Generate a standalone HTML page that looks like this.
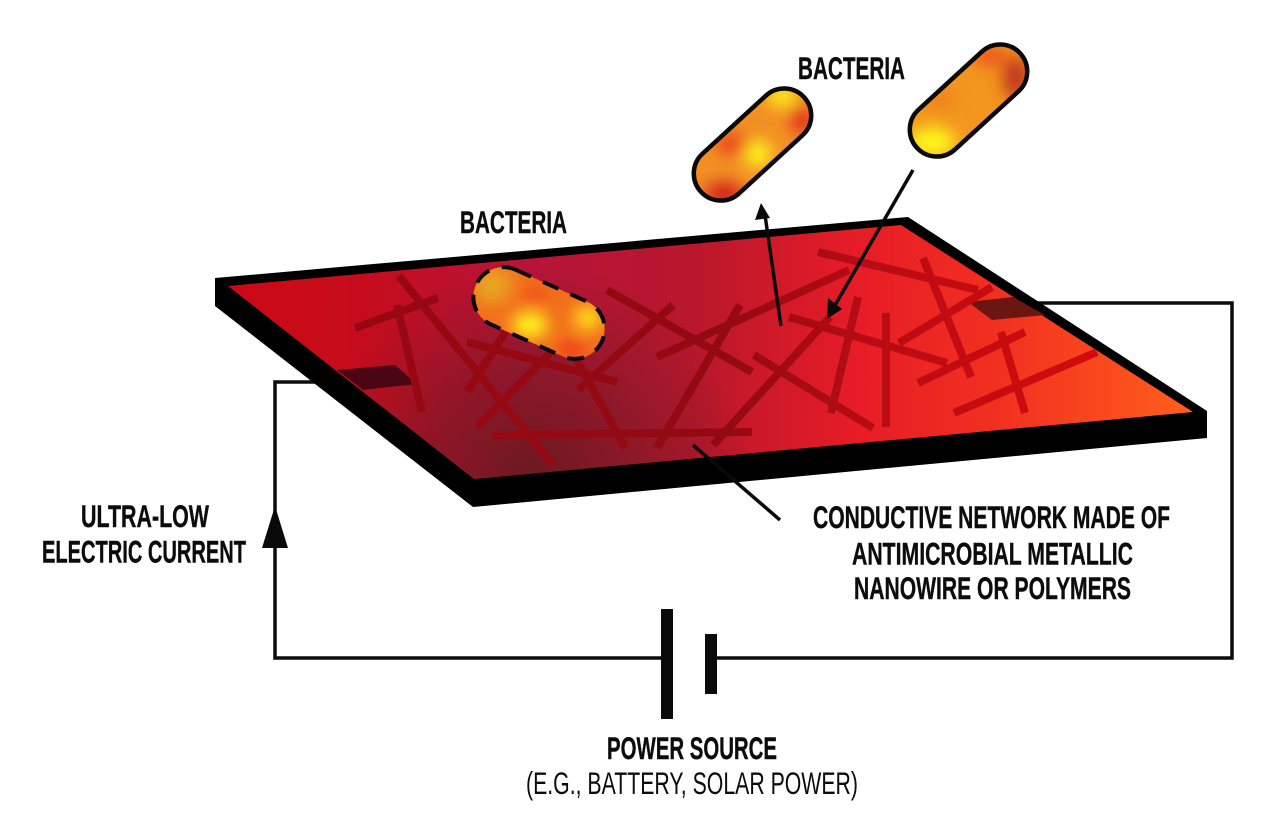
<!DOCTYPE html>
<html><head><meta charset="utf-8"><style>
html,body{margin:0;padding:0;background:#fff;width:1276px;height:839px;overflow:hidden}
svg{display:block}
text{font-family:"Liberation Sans",sans-serif;font-weight:700;font-size:31.500px;fill:#0c0c0c;stroke:#0c0c0c;stroke-width:.4px}
</style></head><body>
<svg width="1276" height="839" viewBox="0 0 1276 839" xmlns="http://www.w3.org/2000/svg">
<defs>
<linearGradient id="pl" gradientUnits="userSpaceOnUse" x1="228" y1="0" x2="1193" y2="0">
<stop offset="0" stop-color="#cc0a14"/><stop offset=".14" stop-color="#c60c1c"/><stop offset=".3" stop-color="#b8143a"/><stop offset=".48" stop-color="#b8172c"/><stop offset=".65" stop-color="#e61c26"/><stop offset=".8" stop-color="#f23020"/><stop offset="1" stop-color="#ff5f1c"/>
</linearGradient>
<radialGradient id="dk" gradientUnits="userSpaceOnUse" cx="530" cy="480" r="220">
<stop offset="0" stop-color="#5e1a1c" stop-opacity=".85"/><stop offset=".5" stop-color="#641a20" stop-opacity=".5"/><stop offset="1" stop-color="#6a1a20" stop-opacity="0"/>
</radialGradient>
<linearGradient id="wr" gradientUnits="userSpaceOnUse" x1="350" y1="0" x2="1100" y2="0">
<stop offset="0" stop-color="#980812"/><stop offset=".5" stop-color="#930a12"/><stop offset=".7" stop-color="#b90c14"/><stop offset="1" stop-color="#d20c0c"/>
</linearGradient>
<filter id="b" x="-60%" y="-60%" width="220%" height="220%"><feGaussianBlur stdDeviation="8"/></filter>
<clipPath id="c1"><rect x="-69" y="-30" width="138" height="60" rx="30" transform="translate(539 313) rotate(24)"/></clipPath>
<clipPath id="c2"><rect x="-70" y="-27" width="140" height="54" rx="27" transform="translate(752.500 144.500) rotate(-42.500)"/></clipPath>
<clipPath id="c3"><rect x="-70" y="-27" width="140" height="54" rx="27" transform="translate(968.500 100.500) rotate(-42.500)"/></clipPath>
</defs>

<!-- circuit -->
<g fill="none" stroke="#0c0c0c" stroke-width="3.500">
<path d="M340 382H275V658H662"/>
<path d="M716 658H1232V303H1030"/>
</g>
<rect x="661" y="609" width="12" height="110" fill="#0a0a0a"/>
<rect x="705" y="634" width="12" height="60" fill="#0a0a0a"/>
<path d="M275 506L288 548H262Z" fill="#0a0a0a"/>

<!-- plate -->
<path d="M215 278L908 217L1207 411V438L473 507L215 306Z" fill="#000"/>
<path d="M228 286L901 225L1193 412L474 479Z" fill="url(#pl)"/>
<path d="M228 286L901 225L1193 412L474 479Z" fill="url(#dk)"/>

<!-- electrodes -->
<path d="M337 370L395 365L417 384L363 390Z" fill="#4a0614"/>
<path d="M968 302L1013 297L1045 315L992 320Z" fill="#6d1510"/>

<!-- wires -->
<g stroke="url(#wr)" stroke-width="8" fill="none">
<path d="M355 328L438 298"/>
<path d="M399 276L553 465"/>
<path d="M397 305L422 412"/>
<path d="M467 342L617 382"/>
<path d="M508 328L467 392"/>
<path d="M553 350L477 427"/>
<path d="M577 360L625 448"/>
<path d="M492 435L752 432"/>
<path d="M607 290L752 372"/>
<path d="M673 305L578 390"/>
<path d="M657 357L849 270"/>
<path d="M657 448L740 305"/>
<path d="M818 252L978 290"/>
<path d="M923 258L971 377"/>
<path d="M992 287L899 343"/>
<path d="M789 317L947 363"/>
<path d="M858 297L831 413"/>
<path d="M886 313L886 427"/>
<path d="M754 355L873 428"/>
<path d="M830 317L713 445"/>
<path d="M1025 332L918 383"/>
<path d="M1001 332L1025 413"/>
<path d="M1097 352L954 413"/>
</g>

<!-- bacterium on plate -->
<g clip-path="url(#c1)">
<rect x="460" y="260" width="160" height="110" fill="#f2701c"/>
<g filter="url(#b)">
<ellipse cx="492" cy="285" rx="20" ry="18" fill="#e8a420"/>
<ellipse cx="530" cy="325" rx="18" ry="13" fill="#fff61a"/>
<ellipse cx="588" cy="318" rx="14" ry="12" fill="#ffe21a"/>
<ellipse cx="572" cy="350" rx="15" ry="9" fill="#ee3a1a"/>
<ellipse cx="535" cy="296" rx="14" ry="9" fill="#ef501c"/>
</g>
</g>
<rect x="-69" y="-30" width="138" height="60" rx="30" transform="translate(539 313) rotate(24)" fill="none" stroke="#0a0a0a" stroke-width="4" stroke-dasharray="17 13"/>

<!-- bacterium 2 -->
<g clip-path="url(#c2)">
<rect x="685" y="80" width="135" height="130" fill="#f29024"/>
<g filter="url(#b)">
<ellipse cx="724" cy="194" rx="20" ry="12" fill="#d0201c"/>
<ellipse cx="734" cy="144" rx="18" ry="10" fill="#ea3c1c"/>
<ellipse cx="758" cy="154" rx="13" ry="14" fill="#fff61a"/>
<ellipse cx="782" cy="96" rx="15" ry="10" fill="#fff61a"/>
<ellipse cx="802" cy="120" rx="12" ry="15" fill="#e4301c"/>
</g>
</g>
<rect x="-70" y="-27" width="140" height="54" rx="27" transform="translate(752.500 144.500) rotate(-42.500)" fill="none" stroke="#0a0a0a" stroke-width="4.500"/>

<!-- bacterium 3 -->
<g clip-path="url(#c3)">
<rect x="900" y="35" width="135" height="130" fill="#f2961f"/>
<g filter="url(#b)">
<ellipse cx="932" cy="142" rx="24" ry="15" fill="#fff61a"/>
<ellipse cx="1016" cy="78" rx="13" ry="22" fill="#c0361c"/>
<ellipse cx="990" cy="56" rx="16" ry="9" fill="#ee4c1c"/>
<ellipse cx="940" cy="100" rx="14" ry="7" fill="#ee781e"/>
</g>
</g>
<rect x="-70" y="-27" width="140" height="54" rx="27" transform="translate(968.500 100.500) rotate(-42.500)" fill="none" stroke="#0a0a0a" stroke-width="4.500"/>

<!-- arrows -->
<g stroke="#0a0a0a" stroke-width="3.500" fill="none">
<path d="M781 326L765 215"/>
<path d="M913 170L834 307"/>
<path d="M693 445L780 520"/>
</g>
<path d="M761 203L770 218L755 220Z" fill="#0a0a0a"/>
<path d="M827 319L828 298L842 309Z" fill="#0a0a0a"/>

<!-- labels -->
<text x="798" y="79" textLength="107" lengthAdjust="spacingAndGlyphs">BACTERIA</text>
<text x="460" y="233" textLength="107" lengthAdjust="spacingAndGlyphs">BACTERIA</text>
<text x="81" y="527" textLength="128" lengthAdjust="spacingAndGlyphs">ULTRA-LOW</text>
<text x="42" y="562.500" textLength="204" lengthAdjust="spacingAndGlyphs">ELECTRIC CURRENT</text>
<text x="813" y="528" textLength="357" lengthAdjust="spacingAndGlyphs">CONDUCTIVE NETWORK MADE OF</text>
<text x="852" y="564.500" textLength="281" lengthAdjust="spacingAndGlyphs">ANTIMICROBIAL METALLIC</text>
<text x="854" y="599" textLength="277" lengthAdjust="spacingAndGlyphs">NANOWIRE OR POLYMERS</text>
<text x="607" y="759" textLength="170" lengthAdjust="spacingAndGlyphs">POWER SOURCE</text>
<text x="526" y="794" textLength="332" lengthAdjust="spacingAndGlyphs" style="font-weight:400;stroke:none">(E.G., BATTERY, SOLAR POWER)</text>
</svg>
</body></html>
